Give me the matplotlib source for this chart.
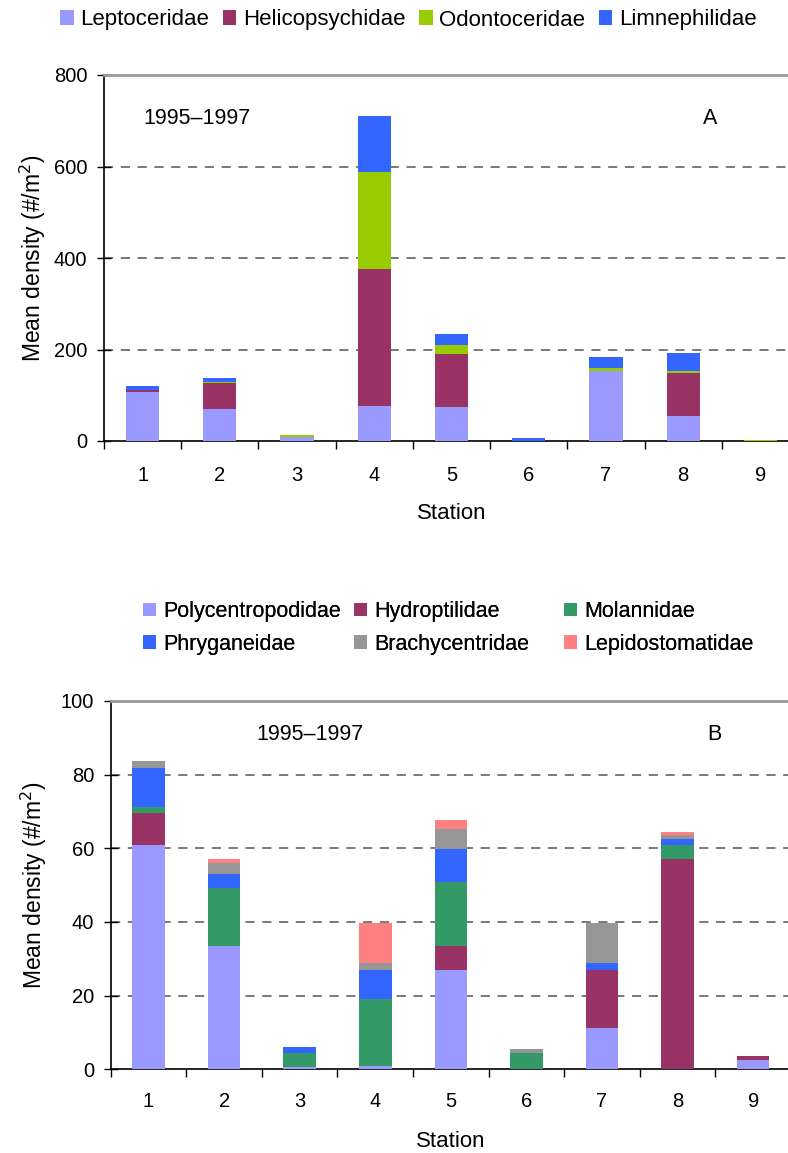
import matplotlib
matplotlib.use("Agg")
import matplotlib.pyplot as plt
import numpy as np

plt.rcParams['font.family'] = ['Liberation Sans', 'DejaVu Sans']

stations = ['1', '2', '3', '4', '5', '6', '7', '8', '9']

# panel A families
famA = ['Leptoceridae', 'Helicopsychidae', 'Odontoceridae', 'Limnephilidae']
lepto = [108, 70, 9, 76, 74, 1, 152, 54, 0]
helico = [4, 57, 0, 299, 116, 0, 0, 94, 0]
odonto = [0, 2, 4, 214, 19, 0, 7, 4, 2]
limne = [8, 8, 0, 122, 24, 5, 24, 40, 0]
colA = ['#9999FF', '#993366', '#99CC00', '#3366FF']

# panel B families
famB = ['Polycentropodidae', 'Hydroptilidae', 'Molannidae',
        'Phryganeidae', 'Brachycentridae', 'Lepidostomatidae']
polyc = [60.8, 33.5, 0.6, 0.9, 27.0, 0, 11.2, 0, 2.5]
hydro = [8.8, 0, 0, 0, 6.5, 0, 15.8, 57.2, 1.1]
molan = [1.7, 15.8, 3.8, 18.2, 17.4, 4.4, 0, 3.6, 0]
phryg = [10.6, 3.8, 1.7, 7.9, 9.0, 0, 1.9, 1.8, 0]
brachy = [1.9, 3.0, 0, 1.9, 5.4, 1.1, 10.9, 0.9, 0]
lepido = [0, 1.1, 0, 10.9, 2.5, 0, 0, 1.0, 0]
colB = ['#9999FF', '#993366', '#339966', '#3366FF', '#969696', '#FF8080']


def drawPanel(ax, series, colors, names, ymax, ystep, tag, yearPos, tagPos, padx, padlab):
    x = np.arange(len(stations))
    bottom = np.zeros(len(stations))
    bars = []
    for vals, c, n in zip(series, colors, names):
        b = ax.bar(x, vals, 0.43, bottom=bottom, color=c, label=n, zorder=3)
        bars.append(b)
        bottom = bottom + np.array(vals)

    ax.set_xlim(-0.5, len(stations) - 0.5)
    ax.set_ylim(0, ymax)
    ax.set_yticks(np.arange(0, ymax + 1, ystep))
    for v in np.arange(ystep, ymax, ystep):
        ax.axhline(v, color='#555555', lw=1.1, dashes=(6, 5), zorder=1)

    ax.set_xticks(x)
    ax.set_xticklabels(stations)
    ax.set_xticks(np.arange(-0.5, len(stations) - 0.4, 1), minor=True)
    ax.tick_params(axis='x', which='major', length=0, pad=padx, labelsize=14.5)
    ax.tick_params(axis='x', which='minor', length=6, width=1, direction='out')
    ax.tick_params(axis='y', length=10, width=1, direction='inout', pad=7, labelsize=14.5)

    ax.spines['right'].set_visible(False)
    ax.spines['top'].set_color('#999999')
    ax.spines['top'].set_linewidth(2)
    ax.spines['left'].set_linewidth(1.2)
    ax.spines['bottom'].set_linewidth(1.2)

    ax.set_ylabel('Mean density (#/m$^2$)', fontsize=16.5)
    ax.set_xlabel('Station', fontsize=16, labelpad=padlab)

    ax.text(yearPos[0], yearPos[1], '1995\u20131997', fontsize=15.5, ha='center', va='center')
    ax.text(tagPos[0], tagPos[1], tag, fontsize=15.5, ha='center', va='center')
    return bars


fig = plt.figure(figsize=(7.88, 11.53), dpi=100)
W, H = 788, 1153

axA = fig.add_axes([104 / W, 1 - 441 / H, 695 / W, 366 / H])
barsA = drawPanel(axA, [lepto, helico, odonto, limne], colA, famA, 800, 200, 'A',
                  (0.7, 705), (7.35, 705), 18, 13)
axA.yaxis.set_label_coords(-0.08, 0.5)

axB = fig.add_axes([110.7 / W, 1 - 1069.3 / H, 680.3 / W, 368.3 / H])
barsB = drawPanel(axB, [polyc, hydro, molan, phryg, brachy, lepido], colB, famB, 100, 20, 'B',
                  (2.14, 91), (7.49, 91), 16, 15)
axB.yaxis.set_label_coords(-0.09, 0.5)

legStyle = dict(frameon=False, borderpad=0, borderaxespad=0,
                handlelength=0.62, handleheight=0.62, handletextpad=0.3)

fig.legend(barsA, famA, loc='center left', bbox_to_anchor=(60 / W, 1 - 20 / H),
           ncol=4, columnspacing=0.6, prop={'size': 16}, **legStyle)

# panel B legend: three columns placed one by one, rows go across
colX = [143, 354, 564]
for k in range(3):
    leg = fig.legend([barsB[k], barsB[k + 3]], [famB[k], famB[k + 3]],
                     loc='center left', bbox_to_anchor=(colX[k] / W, 1 - 628 / H),
                     labelspacing=0.55, prop={'size': 15.5}, **legStyle)
    fig.add_artist(leg)

fig.savefig('out.png', dpi=100)
